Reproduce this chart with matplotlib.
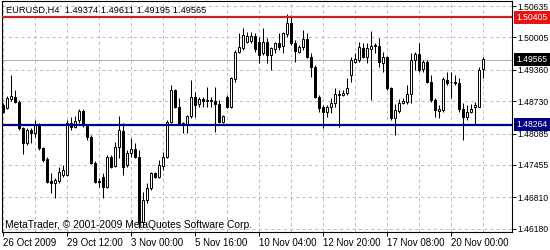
"""
EURUSD H4 candlestick chart, MetaTrader style, with two horizontal levels.
"""
import matplotlib
matplotlib.use("Agg")
import matplotlib.pyplot as plt
import numpy as np

# ── OHLC, one entry per H4 bar ──────────────────────────────────────────────
opens = [
    1.48655, 1.48588, 1.48768, 1.48822, 1.48722, 1.48188, 1.47888, 1.48155,
    1.48088, 1.48255, 1.47788, 1.47568, 1.47142, 1.47102, 1.47142, 1.47255,
    1.47255, 1.48302, 1.48222, 1.48355, 1.48542, 1.48255, 1.48022, 1.47502,
    1.47142, 1.47222, 1.47022, 1.47608, 1.47435, 1.47822, 1.48142, 1.47455,
    1.47688, 1.47768, 1.47622, 1.46315, 1.46755, 1.46988, 1.47288, 1.47222,
    1.47435, 1.47622, 1.48322, 1.48955, 1.48622, 1.48288, 1.48255, 1.48435,
    1.48808, 1.48675, 1.48768, 1.48742, 1.48755, 1.48735, 1.48675, 1.48322,
    1.48822, 1.48622, 1.49168, 1.49722, 1.49788, 1.49922, 1.49942, 1.50035,
    1.49922, 1.49688, 1.49922, 1.49655, 1.49768, 1.49902, 1.49835, 1.50075,
    1.50288, 1.49888, 1.49722, 1.49808, 1.49968, 1.49622, 1.49422, 1.48822,
    1.48608, 1.48522, 1.48608, 1.48688, 1.48875, 1.48855, 1.48888, 1.49255,
    1.49522, 1.49555, 1.49788, 1.49622, 1.49768, 1.49835, 1.49835, 1.49502,
    1.49622, 1.48988, 1.48388, 1.48542, 1.48702, 1.48715, 1.48875, 1.49555,
    1.49675, 1.49368, 1.49522, 1.49122, 1.48755, 1.48542, 1.48555, 1.49155,
    1.49115, 1.49122, 1.49088, 1.48568, 1.48422, 1.48522, 1.48608, 1.48622,
    1.49374,
]
highs = [
    1.48702, 1.48835, 1.49255, 1.48955, 1.48755, 1.48222, 1.48188, 1.48188,
    1.48355, 1.48288, 1.47822, 1.47622, 1.47288, 1.47188, 1.47422, 1.47455,
    1.48355, 1.48422, 1.48435, 1.48568, 1.48568, 1.48275, 1.48055, 1.47542,
    1.47188, 1.47288, 1.47655, 1.47655, 1.47922, 1.48435, 1.48288, 1.47755,
    1.47988, 1.47888, 1.47755, 1.46922, 1.47088, 1.47322, 1.47322, 1.47555,
    1.47722, 1.48355, 1.49055, 1.48968, 1.48788, 1.48322, 1.48455, 1.49155,
    1.48922, 1.48808, 1.48808, 1.49022, 1.48808, 1.49022, 1.48755, 1.48455,
    1.48855, 1.49222, 1.49755, 1.50088, 1.50188, 1.50122, 1.50122, 1.50088,
    1.50022, 1.50188, 1.49988, 1.49822, 1.49922, 1.50088, 1.50122, 1.50475,
    1.50455, 1.49955, 1.49855, 1.50155, 1.50088, 1.49688, 1.49455, 1.48855,
    1.48655, 1.48655, 1.48788, 1.48988, 1.48955, 1.48955, 1.49188, 1.49622,
    1.49688, 1.49922, 1.49888, 1.49888, 1.50142, 1.49888, 1.49988, 1.49722,
    1.49635, 1.49022, 1.48675, 1.48768, 1.48788, 1.49055, 1.49688, 1.49722,
    1.49888, 1.49555, 1.49555, 1.49255, 1.48788, 1.48655, 1.49222, 1.49322,
    1.49322, 1.49255, 1.49188, 1.48688, 1.48655, 1.48675, 1.48722, 1.49408,
    1.49611,
]
lows = [
    1.48488, 1.48568, 1.48742, 1.48702, 1.48155, 1.47675, 1.47855, 1.47888,
    1.48022, 1.47755, 1.47522, 1.47088, 1.46888, 1.46788, 1.47088, 1.47222,
    1.47235, 1.48155, 1.48188, 1.48288, 1.48222, 1.47955, 1.47475, 1.47088,
    1.47022, 1.46788, 1.46988, 1.47388, 1.47422, 1.47588, 1.47255, 1.47422,
    1.47622, 1.47588, 1.46188, 1.46222, 1.46688, 1.46955, 1.47188, 1.47188,
    1.47355, 1.47588, 1.48288, 1.48588, 1.48255, 1.48088, 1.48088, 1.48388,
    1.48422, 1.48622, 1.48622, 1.48622, 1.48622, 1.48122, 1.48288, 1.48288,
    1.48588, 1.48588, 1.49122, 1.49688, 1.49755, 1.49888, 1.49888, 1.49722,
    1.49488, 1.49655, 1.49488, 1.49355, 1.49688, 1.49755, 1.49688, 1.50022,
    1.49855, 1.49522, 1.49688, 1.49755, 1.49588, 1.49222, 1.48788, 1.48522,
    1.48188, 1.48422, 1.48488, 1.48622, 1.48222, 1.48835, 1.48855, 1.49122,
    1.49488, 1.49522, 1.49588, 1.49488, 1.48755, 1.49688, 1.49422, 1.49322,
    1.48955, 1.48355, 1.48055, 1.48488, 1.48675, 1.48675, 1.48688, 1.49355,
    1.49322, 1.49322, 1.49088, 1.48722, 1.48422, 1.48388, 1.48522, 1.49055,
    1.48788, 1.49055, 1.48522, 1.47955, 1.48355, 1.48488, 1.48255, 1.48608,
    1.49195,
]
closes = [
    1.48522, 1.48788, 1.48835, 1.48722, 1.48188, 1.47888, 1.48155, 1.48088,
    1.48255, 1.47788, 1.47555, 1.47122, 1.47102, 1.47155, 1.47322, 1.47355,
    1.48302, 1.48208, 1.48342, 1.48542, 1.48255, 1.48022, 1.47488, 1.47122,
    1.47115, 1.47022, 1.47622, 1.47422, 1.47822, 1.48155, 1.47422, 1.47688,
    1.47768, 1.47622, 1.46315, 1.46755, 1.46988, 1.47288, 1.47222, 1.47455,
    1.47622, 1.48322, 1.48955, 1.48622, 1.48288, 1.48255, 1.48435, 1.48808,
    1.48655, 1.48768, 1.48742, 1.48755, 1.48735, 1.48675, 1.48322, 1.48435,
    1.48622, 1.49188, 1.49722, 1.49822, 1.50055, 1.50035, 1.50035, 1.49768,
    1.49655, 1.49922, 1.49655, 1.49788, 1.49902, 1.49822, 1.50088, 1.50288,
    1.49888, 1.49742, 1.49808, 1.49968, 1.49622, 1.49422, 1.48822, 1.48588,
    1.48522, 1.48608, 1.48702, 1.48875, 1.48848, 1.48902, 1.48988, 1.49555,
    1.49568, 1.49808, 1.49622, 1.49788, 1.49835, 1.49848, 1.49522, 1.49622,
    1.48988, 1.48388, 1.48555, 1.48702, 1.48728, 1.48875, 1.49555, 1.49675,
    1.49355, 1.49522, 1.49122, 1.48755, 1.48555, 1.48582, 1.49168, 1.49102,
    1.49122, 1.49088, 1.48568, 1.48422, 1.48522, 1.48568, 1.48655, 1.49355,
    1.49565,
]

date_labels = ["26 Oct 2009", "29 Oct 12:00", "3 Nov 00:00", "5 Nov 16:00",
               "10 Nov 04:00", "12 Nov 20:00", "17 Nov 08:00", "20 Nov 00:00"]
date_bars = [0, 16, 32, 48, 64, 80, 96, 112]
price_ticks = [1.50635, 1.50005, 1.49360, 1.48730,
               1.48085, 1.47455, 1.46810, 1.46180]

resistance = 1.50405
support = 1.48264
bid = 1.49565
header = "EURUSD,H4  1.49374 1.49611 1.49195 1.49565"
footer = "MetaTrader, \u00a9 2001-2009 MetaQuotes Software Corp."

plt.rcParams["font.family"] = ["Liberation Sans", "DejaVu Sans"]
FS = 7        # dates / header
FS_PRICE = 6.2  # narrow price scale

fig = plt.figure(figsize=(5.5, 2.5), dpi=100)
ax = fig.add_axes([2 / 550, 18 / 250, 510 / 550, 231 / 250])
ax.set_xlim(-0.25, 127.25)
ax.set_ylim(1.46115, 1.50735)

# dashed grid: every 8 bars, every price label
grid_kw = dict(color="#c0c0c0", lw=0.75, ls=(0, (3, 3)), zorder=1)
for gx in range(0, 128, 8):
    ax.axvline(gx, **grid_kw)
for gy in price_ticks:
    ax.axhline(gy, **grid_kw)

o, h, l, c = (np.array(v) for v in (opens, highs, lows, closes))
x = np.arange(len(o))
up = c >= o

ax.axhline(bid, color="#b4b4b4", lw=0.8, zorder=2)
ax.vlines(x, l, h, color="black", lw=0.75, zorder=3)
ax.bar(x, np.maximum(np.abs(c - o), 0.00003), bottom=np.minimum(o, c),
       width=0.6, color=np.where(up, "white", "black"),
       edgecolor="black", lw=0.7, zorder=4)

ax.axhline(resistance, color="#cc2222", lw=1.6, zorder=5)
ax.axhline(support, color="#000080", lw=1.6, zorder=5)

# axes look
for s in ax.spines.values():
    s.set_color("black")
    s.set_linewidth(0.8)
ax.yaxis.tick_right()
ax.set_yticks(price_ticks, [f"{p:.5f}" for p in price_ticks])
ax.set_xticks(date_bars, date_labels)
for lbl in ax.get_xticklabels():
    lbl.set_ha("left")
ax.tick_params(axis="both", direction="out", length=3, width=0.7,
               colors="black", pad=1.5)
ax.tick_params(axis="x", labelsize=FS)
ax.tick_params(axis="y", labelsize=FS_PRICE, pad=1.2)

# level boxes on the price scale
for val, fc in ((resistance, "#ee1111"), (bid, "black"), (support, "#000080")):
    ax.annotate(f"{val:.5f}", xy=(1.0, val), xycoords=("axes fraction", "data"),
                xytext=(3.2, 0), textcoords="offset points", va="center",
                ha="left", fontsize=FS_PRICE, color="white", zorder=10,
                bbox=dict(boxstyle="square,pad=0.25", fc=fc, ec="none"),
                annotation_clip=False)

fig.text(6 / 550, 1 - 10 / 250, header, fontsize=6.7, va="center", ha="left")
fig.text(5 / 550, 1 - 225 / 250, footer, fontsize=7.4, va="center", ha="left")

fig.savefig("out.png", dpi=100, facecolor="white")
plt.close(fig)
